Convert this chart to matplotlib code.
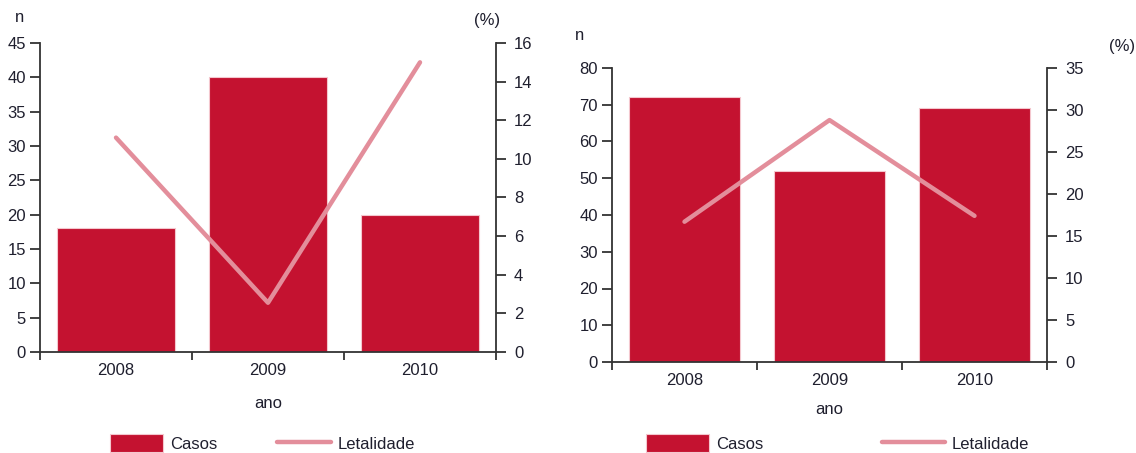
import numpy as np
from matplotlib import pyplot as plt

plt.rcParams['font.family'] = ['Liberation Sans', 'DejaVu Sans']

anos = ['2008', '2009', '2010']

# painel esquerdo
casos_a = [18, 40, 20]
letal_a = [11.1, 2.55, 15.0]
# painel direito
casos_b = [72, 52, 69]
letal_b = [16.7, 28.8, 17.4]

cor_barra = '#C41230'
cor_linha = '#E38E9B'
cor_eixo = '#333333'
cor_texto = '#1F1F2E'


def painel(rect, casos, letal, ymax, ystep, y2max, y2step, ano_y, n_xy, pct_xy):
    ax = fig.add_axes(rect)
    x = np.arange(len(anos))
    ax.bar(x, casos, width=0.77, color=cor_barra, edgecolor='#F4C7CE', linewidth=0.8, zorder=2)
    ax.set_xlim(-0.5, len(anos) - 0.5)
    ax.set_ylim(0, ymax)
    ax.set_yticks(np.arange(0, ymax + 1, ystep))
    ax.set_xticks(x)
    ax.set_xticklabels(anos)
    ax.set_xticks(np.arange(-0.5, len(anos)), minor=True)
    ax.tick_params(axis='x', which='major', length=0, pad=8, labelsize=12, labelcolor=cor_texto)
    ax.tick_params(axis='x', which='minor', length=6, width=1.3, color=cor_eixo, direction='out')
    ax.tick_params(axis='y', length=7, width=1.3, color=cor_eixo, labelsize=12, labelcolor=cor_texto, pad=3)
    for s in ['top', 'right']:
        ax.spines[s].set_visible(False)
    for s in ['left', 'bottom']:
        ax.spines[s].set_color(cor_eixo)
        ax.spines[s].set_linewidth(1.3)

    ax2 = ax.twinx()
    l, = ax2.plot(x, letal, color=cor_linha, linewidth=3.2, solid_capstyle='round', zorder=3)
    ax2.set_ylim(0, y2max)
    ax2.set_yticks(np.arange(0, y2max + 0.1, y2step))
    ax2.tick_params(axis='y', length=7, width=1.3, color=cor_eixo, labelsize=12, labelcolor=cor_texto, pad=6)
    for s in ['top', 'left', 'bottom']:
        ax2.spines[s].set_visible(False)
    ax2.spines['right'].set_color(cor_eixo)
    ax2.spines['right'].set_linewidth(1.3)

    fig.text(n_xy[0], n_xy[1], 'n', fontsize=12, color=cor_texto, ha='center', va='center')
    fig.text(pct_xy[0], pct_xy[1], '(%)', fontsize=12, color=cor_texto, ha='right', va='center')
    fig.text(rect[0] + rect[2] / 2, ano_y, 'ano', fontsize=12, color=cor_texto, ha='center', va='center')
    return ax, l


fig = plt.figure(figsize=(11.36, 4.53), dpi=100)

W, H = 1136, 453
ax_a, la = painel([40 / W, 1 - 352 / H, 456 / W, 309 / H], casos_a, letal_a, 45, 5, 16, 2,
                  1 - 403 / H, (20 / W, 1 - 17 / H), (500 / W, 1 - 20 / H))
ax_b, lb = painel([612 / W, 1 - 362 / H, 435 / W, 294 / H], casos_b, letal_b, 80, 10, 35, 5,
                  1 - 410 / H, (580 / W, 1 - 35 / H), (1135 / W, 1 - 47 / H))

# legendas sob cada painel
for ax, l, x0, hl, sp in [(ax_a, la, 110, 3.2, 3.6), (ax_b, lb, 646, 3.8, 7.1)]:
    ax.legend([ax.patches[0], l], ['Casos', 'Letalidade'], ncol=2, frameon=False,
              loc='center left', bbox_to_anchor=(x0 / W, 1 - 443 / H), bbox_transform=fig.transFigure,
              borderpad=0, borderaxespad=0,
              handlelength=hl, handleheight=1.2, handletextpad=0.4, columnspacing=sp,
              fontsize=12, labelcolor=cor_texto)

fig.savefig('out.png', dpi=100)
